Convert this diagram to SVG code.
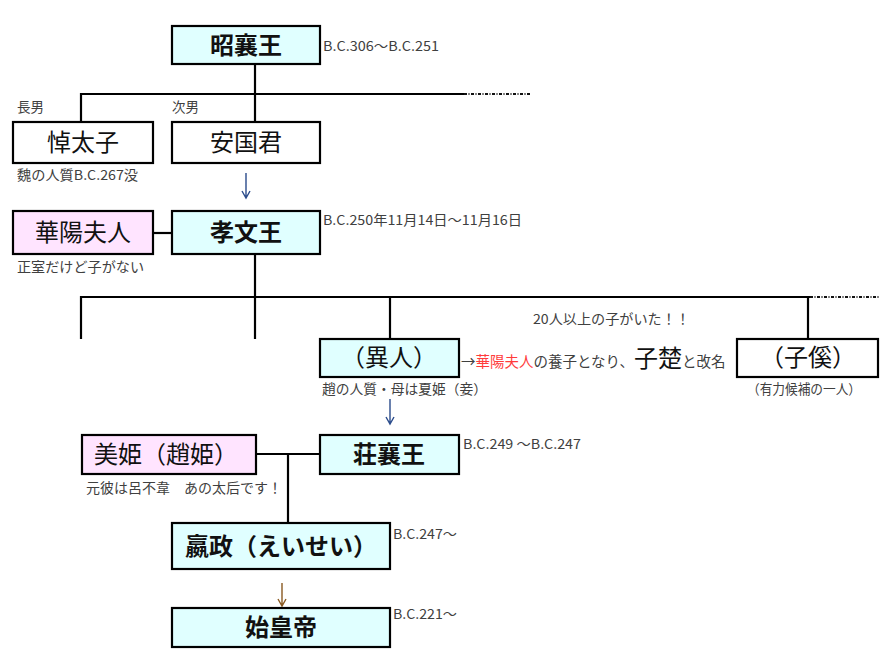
<svg xmlns="http://www.w3.org/2000/svg" width="892" height="661" viewBox="0 0 892 661">
<style>
  .box { stroke: #000; stroke-width: 2.2; }
  .king { fill: #E0FFFF; }
  .wom { fill: #FFE4FF; }
  .plain { fill: #FFFFFF; }
  .nt { font-family: "Noto Sans CJK JP", "Noto Sans", sans-serif; font-size: 24px; fill: #111; text-anchor: middle; }
  .b { font-weight: bold; }
  .an { font-family: "Noto Sans CJK JP", "Noto Sans", sans-serif; font-size: 13.5px; fill: #404040; }
  .ln { stroke: #000; stroke-width: 2.2; fill: none; }
  .dot { stroke: #111; stroke-width: 2; fill: none; stroke-dasharray: 3 1.5 1 1.5; }
  .arB { stroke: #2B4C8C; stroke-width: 1.4; fill: none; }
  .arO { stroke: #8A5A22; stroke-width: 1.4; fill: none; }
</style>
<rect width="892" height="661" fill="#FFFFFF"/>

<g id="connectors">
  <line class="ln" x1="255" y1="64" x2="255" y2="94"/>
  <line class="ln" x1="81" y1="94" x2="464" y2="94"/>
  <line class="dot" x1="464" y1="94" x2="530" y2="94"/>
  <line class="ln" x1="81" y1="93" x2="81" y2="122"/>
  <line class="ln" x1="255" y1="94" x2="255" y2="122"/>
  <path class="arB" d="M246,173 L246,198 M242,191 L246,198 L250,191"/>
  <line class="ln" x1="153" y1="233" x2="172" y2="233"/>
  <line class="ln" x1="255" y1="255" x2="255" y2="297"/>
  <line class="ln" x1="81" y1="297" x2="810" y2="297"/>
  <line class="dot" x1="810" y1="297" x2="879" y2="297"/>
  <line class="ln" x1="81" y1="296" x2="81" y2="339"/>
  <line class="ln" x1="255" y1="297" x2="255" y2="339"/>
  <line class="ln" x1="390" y1="297" x2="390" y2="339"/>
  <line class="ln" x1="808" y1="297" x2="808" y2="339"/>
  <path class="arB" d="M390,399 L390,424 M386,417 L390,424 L394,417"/>
  <line class="ln" x1="256" y1="454" x2="320" y2="454"/>
  <line class="ln" x1="288" y1="454" x2="288" y2="523"/>
  <path class="arO" d="M282,583 L282,606 M278,599 L282,606 L286,599"/>
</g>

<g id="n-shoujou">
  <rect class="box king" x="172" y="26" width="148" height="38"/>
  <text class="nt b" x="246" y="54">昭襄王</text>
  <text class="an" x="323" y="51" textLength="116" lengthAdjust="spacingAndGlyphs">B.C.306～B.C.251</text>
</g>

<g id="n-toutaishi">
  <text class="an" x="17" y="112">長男</text>
  <rect class="box plain" x="13" y="122" width="140" height="41"/>
  <text class="nt" x="83" y="151">悼太子</text>
  <text class="an" x="17" y="180" textLength="121" lengthAdjust="spacingAndGlyphs">魏の人質B.C.267没</text>
</g>

<g id="n-ankokukun">
  <text class="an" x="172" y="112">次男</text>
  <rect class="box plain" x="172" y="122" width="148" height="41"/>
  <text class="nt" x="246" y="151">安国君</text>
</g>

<g id="n-kayou">
  <rect class="box wom" x="13" y="211" width="140" height="43"/>
  <text class="nt" x="83" y="241">華陽夫人</text>
  <text class="an" x="17" y="272" textLength="127" lengthAdjust="spacingAndGlyphs">正室だけど子がない</text>
</g>

<g id="n-koubun">
  <rect class="box king" x="172" y="211" width="148" height="43"/>
  <text class="nt b" x="246" y="241">孝文王</text>
  <text class="an" x="323" y="225" textLength="199" lengthAdjust="spacingAndGlyphs">B.C.250年11月14日～11月16日</text>
</g>

<g id="note-children">
  <text class="an" x="533" y="324" textLength="157" lengthAdjust="spacingAndGlyphs">20人以上の子がいた！！</text>
</g>

<g id="n-ijin">
  <rect class="box king" x="320" y="339" width="139" height="38"/>
  <text class="nt" x="389" y="366">（異人）</text>
  <text class="an" x="461" y="367" style="font-size:14.5px"><tspan>→</tspan><tspan fill="#FF3B3B">華陽夫人</tspan><tspan>の養子となり、</tspan><tspan style="font-size:24px" fill="#111">子楚</tspan><tspan>と改名</tspan></text>
  <text class="an" x="322" y="394" textLength="165" lengthAdjust="spacingAndGlyphs">趙の人質・母は夏姫（妾）</text>
</g>

<g id="n-shikei">
  <rect class="box plain" x="737" y="339" width="141" height="38"/>
  <text class="nt" x="808" y="366">（子傒）</text>
  <text class="an" x="747" y="394" textLength="114" lengthAdjust="spacingAndGlyphs">（有力候補の一人）</text>
</g>

<g id="n-biki">
  <rect class="box wom" x="82" y="435" width="174" height="39"/>
  <text class="nt" x="166" y="463">美姫（趙姫）</text>
  <text class="an" x="86" y="493" textLength="196" lengthAdjust="spacingAndGlyphs">元彼は呂不韋　あの太后です！</text>
</g>

<g id="n-soujou">
  <rect class="box king" x="320" y="435" width="139" height="39"/>
  <text class="nt b" x="389" y="463">荘襄王</text>
  <text class="an" x="463" y="449" textLength="118" lengthAdjust="spacingAndGlyphs">B.C.249 ～B.C.247</text>
</g>

<g id="n-eisei">
  <rect class="box king" x="172" y="523" width="218" height="46"/>
  <text class="nt b" x="281" y="555">嬴政（えいせい）</text>
  <text class="an" x="393" y="539" textLength="64" lengthAdjust="spacingAndGlyphs">B.C.247～</text>
</g>

<g id="n-shikoutei">
  <rect class="box king" x="172" y="608" width="218" height="39"/>
  <text class="nt b" x="281" y="636">始皇帝</text>
  <text class="an" x="393" y="619" textLength="64" lengthAdjust="spacingAndGlyphs">B.C.221～</text>
</g>
</svg>
